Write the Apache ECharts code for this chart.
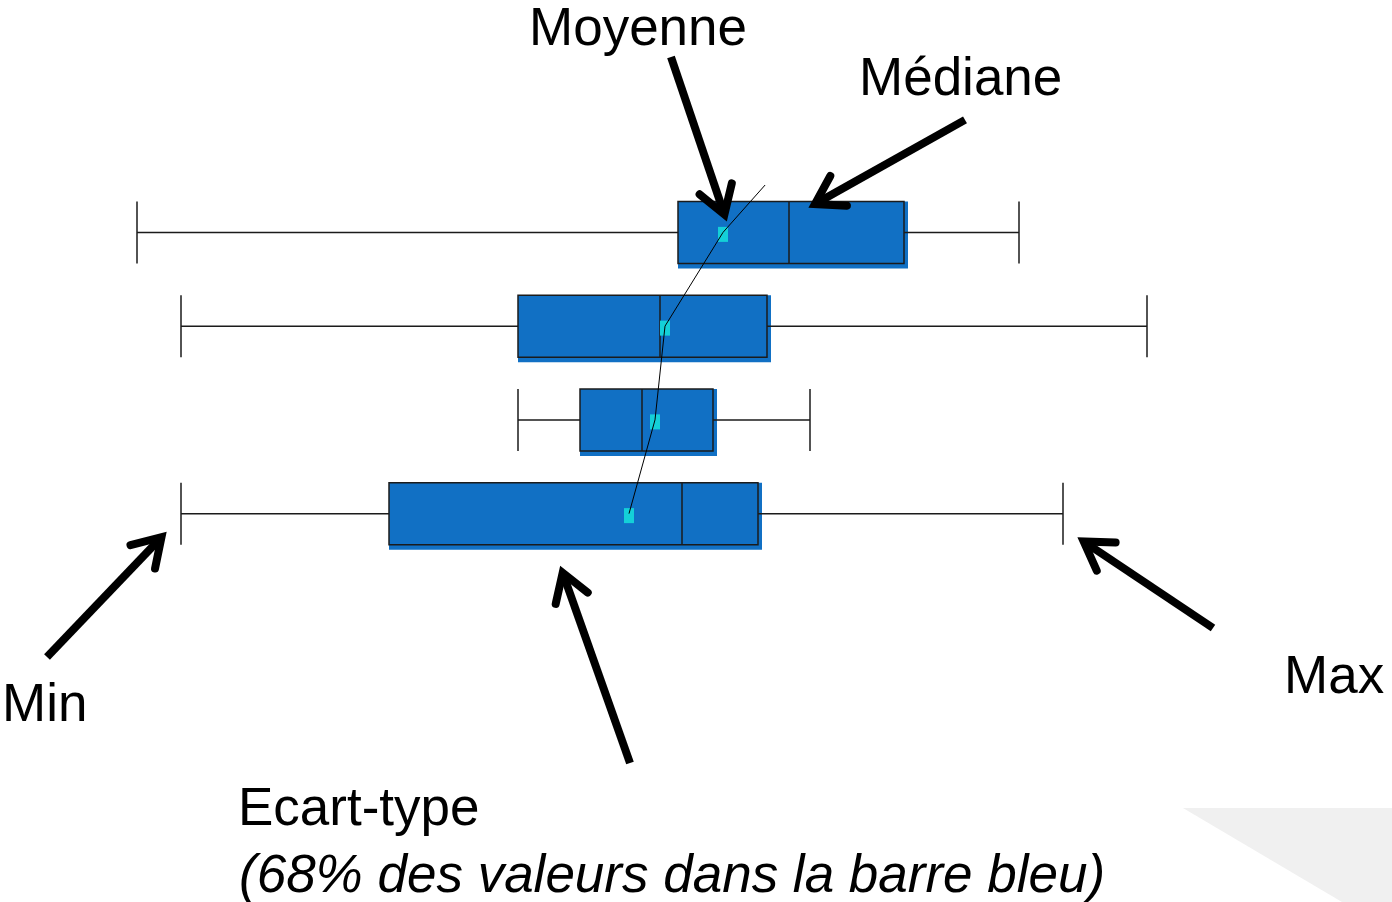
<!DOCTYPE html>
<html>
<head>
<meta charset="utf-8">
<script src="https://cdn.jsdelivr.net/npm/echarts@6/dist/echarts.min.js"></script>
<style>
  html, body { margin: 0; padding: 0; background: #fff; }
  #chart { width: 1392px; height: 902px; }
</style>
</head>
<body>
<div id="chart"></div>
<script>
  // rows, top to bottom
  var rows = ['1', '2', '3', '4'];
  // [min, Q1, median, Q3, max]
  var boxData = [
    [137, 678, 789, 904, 1019],
    [181, 518, 660, 767, 1147],
    [518, 580, 642, 713, 810],
    [181, 389, 682, 758, 1063]
  ];
  var means = [723, 665, 655, 629];
  // where the thin mean line starts, above the first row
  var meanLineStart = [768, -0.54];

  // annotation arrows: [fromX, fromRow, toX, toRow]
  var arrows = [
    [671, -1.87, 727, -0.11],
    [965, -1.20, 808, -0.26],
    [47, 4.53, 167, 3.19],
    [630, 5.66, 560, 3.55],
    [1213, 4.22, 1077, 3.25]
  ];

  var labelTexts = ['Moyenne', 'Médiane', 'Min', 'Max', 'Ecart-type', '(68% des valeurs dans la barre bleu)'];
  var labelPos = [[529, 30], [859, 80], [2, 706], [1284, 678], [238, 810], [239, 877]];

  var blue = '#1170c4';

  var chart = echarts.init(document.getElementById('chart'));

  function renderShadow(params, api) {
    var s = api.coord([api.value(0), api.value(2)]);
    var e = api.coord([api.value(1), api.value(2)]);
    return {
      type: 'rect',
      shape: { x: s[0], y: s[1] - 31, width: e[0] - s[0] + 4, height: 67 },
      style: { fill: blue }
    };
  }

  function renderArrow(params, api) {
    var a = api.coord([api.value(0), api.value(1)]);
    var b = api.coord([api.value(2), api.value(3)]);
    var dx = b[0] - a[0], dy = b[1] - a[1];
    var len = Math.sqrt(dx * dx + dy * dy);
    var ux = dx / len, uy = dy / len;
    var tip = [b[0] - 8 * ux, b[1] - 8 * uy];
    var hl = 32, ang = 0.56;
    function wing(sg) {
      var c = Math.cos(ang), sn = Math.sin(ang) * sg;
      var bx = -ux, by = -uy;
      return [tip[0] + hl * (bx * c - by * sn), tip[1] + hl * (bx * sn + by * c)];
    }
    return {
      type: 'group',
      children: [
        { type: 'polyline', shape: { points: [a, tip] },
          style: { stroke: '#000', lineWidth: 8, lineCap: 'butt', fill: null } },
        { type: 'polyline', shape: { points: [wing(1), tip, wing(-1)] },
          style: { stroke: '#000', lineWidth: 8, lineCap: 'round', lineJoin: 'miter', miterLimit: 10, fill: null } }
      ]
    };
  }

  var meanLine = [meanLineStart].concat(means.map(function (m, i) { return [m, i]; }));

  var graphics = [{
    type: 'polygon', z: -10,
    shape: { points: [[1183, 808], [1392, 808], [1392, 902], [1342, 902]] },
    style: { fill: '#f0f0f0' }
  }];
  labelTexts.forEach(function (t, i) {
    graphics.push({
      type: 'text', x: labelPos[i][0], y: labelPos[i][1], z: 100,
      style: {
        text: t, x: 0, y: 0,
        fontSize: 53, fontFamily: '"Liberation Sans", Arial, sans-serif',
        fontStyle: i === 5 ? 'italic' : 'normal',
        fill: '#000', verticalAlign: 'middle', align: 'left'
      }
    });
  });

  chart.setOption({
    animation: false,
    backgroundColor: '#fff',
    grid: { left: 0, right: 0, top: 185.5, height: 375 },
    xAxis: [
      { type: 'value', min: 0, max: 1392, show: false },
      { type: 'value', min: 0, max: 1392, show: false }
    ],
    yAxis: [
      { type: 'category', data: rows, inverse: true, show: false },
      { type: 'value', min: -0.5, max: 3.5, inverse: true, show: false }
    ],
    graphic: graphics,
    series: [
      {
        type: 'custom', name: 'shadow', z: 1,
        renderItem: renderShadow,
        data: boxData.map(function (d, i) { return [d[1], d[3], i]; })
      },
      {
        type: 'boxplot', z: 2,
        boxWidth: [62, 62],
        itemStyle: { color: blue, borderColor: '#1b1b1b', borderWidth: 1.5 },
        data: boxData
      },
      {
        type: 'scatter', xAxisIndex: 1, yAxisIndex: 1, z: 3,
        symbol: 'rect', symbolSize: [10, 15], symbolOffset: [0, 2],
        itemStyle: { color: '#14d0d8', opacity: 1 },
        data: means.map(function (m, i) { return [m, i]; })
      },
      {
        type: 'line', xAxisIndex: 1, yAxisIndex: 1, z: 4,
        showSymbol: false, symbol: 'none',
        lineStyle: { color: '#000', width: 1 },
        data: meanLine
      },
      {
        type: 'custom', xAxisIndex: 1, yAxisIndex: 1, z: 5, clip: false,
        renderItem: renderArrow,
        encode: { x: [0, 2], y: [1, 3] },
        data: arrows
      }
    ]
  });
</script>
</body>
</html>
